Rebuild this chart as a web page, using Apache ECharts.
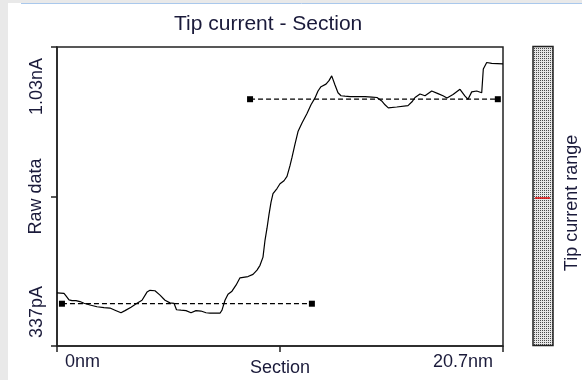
<!DOCTYPE html>
<html>
<head>
<meta charset="utf-8">
<title>Tip current - Section</title>
<script src="https://cdn.jsdelivr.net/npm/echarts@6.0.0/dist/echarts.min.js"></script>
<style>
  html, body { margin: 0; padding: 0; background: #ffffff; }
  #chart { width: 582px; height: 380px; }
</style>
</head>
<body>
<div id="chart"></div>
<script>
// section profile, position in nm and tip current in nA
const sectionNm = [
  0.000, 0.325, 0.418, 0.557, 0.696, 0.882, 1.067, 1.253, 1.532, 1.857,
  2.181, 2.460, 2.692, 2.970, 3.156, 3.435, 3.713, 3.945, 4.177, 4.316,
  4.548, 4.781, 5.013, 5.245, 5.430, 5.546, 5.755, 5.987, 6.219, 6.451,
  6.683, 6.916, 7.101, 7.565, 7.658, 7.797, 7.937, 8.122, 8.308, 8.494,
  8.865, 9.097, 9.283, 9.422, 9.561, 9.654, 9.747, 9.840, 9.932, 10.025,
  10.211, 10.350, 10.536, 10.675, 10.814, 10.907, 11.046, 11.186, 11.371, 11.603,
  11.789, 11.975, 12.114, 12.253, 12.485, 12.624, 12.750, 12.903, 13.042, 13.181,
  13.367, 13.599, 13.970, 14.295, 14.620, 14.852, 15.070, 15.223, 15.377, 15.767,
  16.291, 16.477, 16.616, 16.848, 17.080, 17.391, 17.683, 17.915, 18.101, 18.380,
  18.704, 18.937, 19.076, 19.248, 19.480, 19.712, 19.786, 19.944, 20.176, 20.700
]
const currentNA = [
  0.460, 0.459, 0.453, 0.444, 0.442, 0.442, 0.440, 0.436, 0.432, 0.428,
  0.426, 0.425, 0.420, 0.414, 0.419, 0.427, 0.436, 0.443, 0.462, 0.466,
  0.465, 0.455, 0.443, 0.437, 0.436, 0.421, 0.420, 0.419, 0.414, 0.419,
  0.418, 0.414, 0.413, 0.413, 0.420, 0.443, 0.457, 0.464, 0.478, 0.495,
  0.498, 0.503, 0.513, 0.524, 0.543, 0.582, 0.610, 0.642, 0.670, 0.690,
  0.702, 0.713, 0.720, 0.730, 0.755, 0.774, 0.805, 0.834, 0.854, 0.876,
  0.896, 0.912, 0.928, 0.938, 0.944, 0.952, 0.963, 0.942, 0.924, 0.917,
  0.916, 0.915, 0.915, 0.915, 0.914, 0.913, 0.905, 0.896, 0.889, 0.891,
  0.894, 0.903, 0.913, 0.921, 0.917, 0.928, 0.922, 0.917, 0.912, 0.920,
  0.932, 0.916, 0.909, 0.926, 0.928, 0.924, 0.979, 0.994, 0.992, 0.991
]

// the two level cursors (dashed, with square ends)
const lowerCursorNm = [0.23, 11.83]
const lowerCursorNA = 0.435
const upperCursorNm = [8.96, 20.46]
const upperCursorNA = 0.909

const xRange = [0, 20.7]
const yRange = [0.337, 1.03]
const xTickLabels = ['0nm', '20.7nm']
const yTickLabels = ['337pA', '1.03nA']

const font = '"Liberation Sans", Arial, sans-serif'
const textColor = '#1a1a3a'
const lineColor = '#222222'

const chart = echarts.init(document.getElementById('chart'))

// dotted fill for the range bar
const makeDots = () => {
  const c = document.createElement('canvas')
  c.width = 2
  c.height = 2
  const ctx = c.getContext('2d')
  ctx.fillStyle = '#e6e6e6'
  ctx.fillRect(0, 0, 2, 2)
  ctx.fillStyle = '#4a4a4a'
  ctx.fillRect(0, 0, 1, 1)
  return c
}

const profile = sectionNm.map((x, i) => [x, currentNA[i]])
const lowerCursor = lowerCursorNm.map((x) => [x, lowerCursorNA])
const upperCursor = upperCursorNm.map((x) => [x, upperCursorNA])

const cursorSeries = (data) => ({
  type: 'line',
  data: data,
  symbol: 'rect',
  symbolSize: 6,
  showSymbol: true,
  itemStyle: { color: '#000' },
  lineStyle: { color: '#000', width: 1.3, type: [5, 3] },
  silent: true,
  z: 3
})

const option = {
  animation: false,
  backgroundColor: '#ffffff',
  title: {
    text: 'Tip current - Section',
    left: 174,
    top: 14,
    padding: 0,
    textStyle: { fontFamily: font, fontSize: 21, fontWeight: 'normal', color: textColor }
  },
  grid: {
    left: 57,
    right: 79,
    top: 47,
    bottom: 34,
    show: true,
    borderColor: lineColor,
    borderWidth: 1.5,
    outerBoundsMode: 'none'
  },
  xAxis: {
    type: 'value',
    min: xRange[0],
    max: xRange[1],
    name: 'Section',
    nameLocation: 'middle',
    nameGap: 13,
    nameMoveOverlap: false,
    nameTextStyle: { fontFamily: font, fontSize: 18, color: textColor, verticalAlign: 'top' },
    splitLine: { show: false },
    axisLine: { lineStyle: { color: lineColor, width: 1.5 } },
    axisTick: {
      length: 6,
      customValues: [xRange[0], (xRange[0] + xRange[1]) / 2, xRange[1]],
      lineStyle: { color: lineColor, width: 1.5 }
    },
    axisLabel: {
      customValues: xRange,
      formatter: (v) => (v === xRange[0] ? xTickLabels[0] : xTickLabels[1]),
      alignMinLabel: 'left',
      alignMaxLabel: 'right',
      padding: [0, 10, 0, 8],
      margin: 7,
      fontFamily: font,
      fontSize: 18,
      color: textColor
    }
  },
  yAxis: {
    type: 'value',
    min: yRange[0],
    max: yRange[1],
    name: 'Raw data',
    nameLocation: 'middle',
    nameGap: 12,
    nameRotate: 90,
    nameMoveOverlap: false,
    nameTextStyle: { fontFamily: font, fontSize: 18, color: textColor },
    splitLine: { show: false },
    axisLine: { lineStyle: { color: lineColor, width: 1.5 } },
    axisTick: {
      length: 6,
      customValues: [yRange[0], (yRange[0] + yRange[1]) / 2, yRange[1]],
      lineStyle: { color: lineColor, width: 1.5 }
    },
    axisLabel: {
      customValues: yRange,
      formatter: (v) => (v === yRange[0] ? yTickLabels[0] : yTickLabels[1]),
      rotate: 90,
      alignMinLabel: 'left',
      alignMaxLabel: 'right',
      padding: [0, 11, 0, 8],
      margin: 11,
      fontFamily: font,
      fontSize: 18,
      color: textColor
    }
  },
  series: [
    {
      type: 'line',
      data: profile,
      showSymbol: false,
      lineStyle: { color: '#000', width: 1.2 },
      silent: true,
      z: 4
    },
    cursorSeries(lowerCursor),
    cursorSeries(upperCursor)
  ],
  graphic: [
    { type: 'rect', silent: true, shape: { x: 0, y: 0, width: 582, height: 3 }, style: { fill: '#e9e9e9' } },
    { type: 'rect', silent: true, shape: { x: 0, y: 0, width: 8, height: 380 }, style: { fill: '#e9e9e9' } },
    { type: 'line', silent: true, shape: { x1: 21, y1: 3.5, x2: 582, y2: 3.5 }, style: { stroke: '#a9c8ec', lineWidth: 1 } },
    {
      type: 'rect',
      silent: true,
      shape: { x: 533, y: 46.5, width: 20, height: 299 },
      style: { fill: { image: makeDots(), repeat: 'repeat' }, stroke: lineColor, lineWidth: 1.5 }
    },
    { type: 'line', silent: true, shape: { x1: 535, y1: 198, x2: 550, y2: 198 }, style: { stroke: '#e00000', lineWidth: 1.5 } },
    {
      type: 'text',
      silent: true,
      x: 572,
      y: 203,
      rotation: Math.PI / 2,
      style: {
        text: 'Tip current range',
        font: '18px ' + font,
        fill: textColor,
        align: 'center',
        verticalAlign: 'middle',
        textAlign: 'center',
        textVerticalAlign: 'middle'
      }
    }
  ]
}

chart.setOption(option)
</script>
</body>
</html>
